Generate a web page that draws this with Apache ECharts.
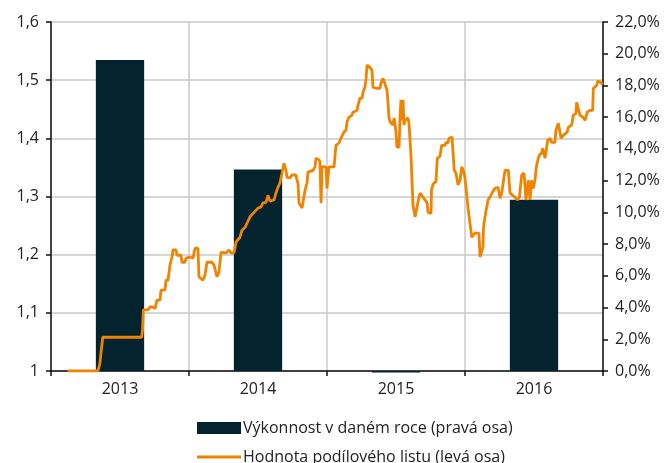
<!DOCTYPE html>
<html>
<head>
<meta charset="utf-8">
<script src="https://cdn.jsdelivr.net/npm/echarts@6/dist/echarts.min.js"></script>
<style>
  html, body { margin: 0; padding: 0; background: #fff; }
  #chart { width: 669px; height: 463px; }
</style>
</head>
<body>
<div id="chart"></div>
<script>
// kategorie (roky) a výkonnost v daném roce, v %
const years = ["2013", "2014", "2015", "2016"];
const yearlyReturn = [19.6, 12.7, -0.1, 10.8];

// hodnota podílového listu: čas (desetinný rok) a hodnota
const navTime = [
  2012.62, 2012.84, 2012.855, 2012.862, 2012.875, 2013.157, 2013.163, 2013.169, 2013.203, 2013.217,
  2013.239, 2013.254, 2013.268, 2013.29, 2013.297, 2013.326, 2013.333, 2013.348, 2013.362, 2013.377,
  2013.384, 2013.406, 2013.413, 2013.442, 2013.449, 2013.471, 2013.478, 2013.507, 2013.529, 2013.543,
  2013.565, 2013.572, 2013.601, 2013.616, 2013.63, 2013.667, 2013.681, 2013.696, 2013.703, 2013.717,
  2013.732, 2013.768, 2013.79, 2013.804, 2013.826, 2013.841, 2013.87, 2013.884, 2013.906, 2013.92,
  2013.942, 2013.964, 2014.0, 2014.022, 2014.036, 2014.058, 2014.072, 2014.087, 2014.116, 2014.13,
  2014.145, 2014.159, 2014.174, 2014.188, 2014.203, 2014.21, 2014.232, 2014.246, 2014.275, 2014.283,
  2014.29, 2014.297, 2014.319, 2014.333, 2014.341, 2014.355, 2014.362, 2014.399, 2014.413, 2014.42,
  2014.442, 2014.449, 2014.457, 2014.464, 2014.493, 2014.5, 2014.514, 2014.551, 2014.565, 2014.587,
  2014.601, 2014.623, 2014.638, 2014.645, 2014.659, 2014.681, 2014.688, 2014.717, 2014.725, 2014.739,
  2014.754, 2014.761, 2014.775, 2014.783, 2014.79, 2014.812, 2014.826, 2014.833, 2014.855, 2014.884,
  2014.891, 2014.906, 2014.92, 2014.935, 2014.942, 2014.949, 2014.957, 2014.964, 2014.978, 2014.986,
  2015.0, 2015.007, 2015.022, 2015.029, 2015.036, 2015.043, 2015.051, 2015.058, 2015.065, 2015.087,
  2015.094, 2015.101, 2015.109, 2015.123, 2015.138, 2015.159, 2015.174, 2015.188, 2015.196, 2015.21,
  2015.225, 2015.232, 2015.254, 2015.257, 2015.268, 2015.29, 2015.299, 2015.319, 2015.331, 2015.355,
  2015.362, 2015.377, 2015.384, 2015.406, 2015.415, 2015.422, 2015.435, 2015.449, 2015.464, 2015.476,
  2015.488, 2015.5, 2015.522, 2015.536, 2015.549, 2015.572, 2015.601, 2015.609, 2015.621, 2015.63,
  2015.634, 2015.645, 2015.667, 2015.681, 2015.696, 2015.717, 2015.739, 2015.754, 2015.766, 2015.778,
  2015.79, 2015.814, 2015.826, 2015.845, 2015.862, 2015.879, 2015.894, 2015.911, 2015.928, 2015.94,
  2015.942, 2015.959, 2015.971, 2015.983, 2015.995, 2016.007, 2016.019, 2016.031, 2016.038, 2016.056,
  2016.063, 2016.072, 2016.08, 2016.092, 2016.099, 2016.116, 2016.128, 2016.152, 2016.159, 2016.176,
  2016.188, 2016.196, 2016.212, 2016.241, 2016.249, 2016.273, 2016.285, 2016.304, 2016.309, 2016.321,
  2016.333, 2016.357, 2016.37, 2016.386, 2016.406, 2016.425, 2016.43, 2016.442, 2016.454, 2016.461,
  2016.478, 2016.498
];
const navValue = [
  1.0, 1.0, 1.014, 1.031, 1.058, 1.058, 1.07, 1.105, 1.105, 1.11,
  1.11, 1.107, 1.122, 1.122, 1.139, 1.139, 1.156, 1.156, 1.182, 1.196,
  1.208, 1.208, 1.199, 1.199, 1.187, 1.187, 1.194, 1.196, 1.194, 1.211,
  1.211, 1.162, 1.156, 1.165, 1.187, 1.187, 1.182, 1.168, 1.162, 1.17,
  1.204, 1.203, 1.208, 1.203, 1.203, 1.222, 1.23, 1.242, 1.247, 1.254,
  1.265, 1.271, 1.28, 1.282, 1.289, 1.29, 1.302, 1.292, 1.294, 1.306,
  1.316, 1.323, 1.34, 1.357, 1.345, 1.333, 1.332, 1.337, 1.337, 1.328,
  1.323, 1.289, 1.28, 1.28, 1.311, 1.323, 1.342, 1.345, 1.351, 1.366,
  1.363, 1.359, 1.289, 1.351, 1.351, 1.314, 1.351, 1.351, 1.388, 1.392,
  1.4, 1.411, 1.414, 1.428, 1.436, 1.44, 1.445, 1.448, 1.457, 1.469,
  1.469, 1.479, 1.488, 1.503, 1.526, 1.522, 1.517, 1.488, 1.486, 1.486,
  1.495, 1.503, 1.5, 1.483, 1.462, 1.436, 1.428, 1.431, 1.423, 1.435,
  1.411, 1.385, 1.385, 1.436, 1.466, 1.431, 1.466, 1.423, 1.431, 1.435,
  1.426, 1.4, 1.368, 1.285, 1.265, 1.29, 1.306, 1.306, 1.299, 1.294,
  1.29, 1.273, 1.271, 1.311, 1.321, 1.326, 1.366, 1.369, 1.388, 1.388,
  1.393, 1.392, 1.4, 1.402, 1.399, 1.345, 1.34, 1.32, 1.328, 1.351,
  1.345, 1.332, 1.28, 1.278, 1.23, 1.237, 1.237, 1.196, 1.194, 1.213,
  1.247, 1.265, 1.294, 1.299, 1.306, 1.314, 1.316, 1.297, 1.306, 1.306,
  1.345, 1.345, 1.306, 1.302, 1.299, 1.294, 1.299, 1.337, 1.34, 1.337,
  1.294, 1.328, 1.294, 1.328, 1.314, 1.328, 1.354, 1.357, 1.371, 1.375,
  1.383, 1.383, 1.366, 1.363, 1.397, 1.4, 1.393, 1.393, 1.414, 1.426,
  1.426, 1.4, 1.405, 1.411, 1.419, 1.423, 1.44, 1.443, 1.462, 1.46,
  1.44, 1.436, 1.431, 1.445, 1.448, 1.448, 1.486, 1.488, 1.491, 1.498,
  1.497, 1.493
];

const barName = "Výkonnost v daném roce (pravá osa)";
const lineName = "Hodnota podílového listu (levá osa)";

let navData = navTime.map(function (t, i) { return [t, navValue[i]]; });

let legendText = { fontSize: 16, color: "#222", padding: [0, 0, 0, -3] };

let myChart = echarts.init(document.getElementById("chart"));
myChart.setOption({
  animation: false,
  textStyle: { fontFamily: "Open Sans, Noto Sans, sans-serif" },
  grid: { left: 51, right: 66, top: 22, bottom: 92 },
  legend: [
    {
      left: 197,
      top: 420,
      padding: 0,
      itemWidth: 44,
      itemHeight: 12,
      textStyle: legendText,
      data: [{ name: barName, icon: "rect" }]
    },
    {
      left: 197,
      top: 449,
      padding: 0,
      itemWidth: 44,
      itemHeight: 3,
      textStyle: legendText,
      data: [{ name: lineName, icon: "rect" }]
    }
  ],
  xAxis: [
    {
      type: "category",
      data: years,
      boundaryGap: true,
      axisLine: { lineStyle: { color: "#111", width: 1.5 } },
      axisTick: { show: true, length: 5, lineStyle: { color: "#111", width: 1.5 } },
      axisLabel: { fontSize: 16, color: "#222", margin: 10 },
      splitLine: { show: true, lineStyle: { color: "#c8c8c8", width: 1.5 } }
    },
    {
      type: "value",
      min: 2012.5,
      max: 2016.5,
      show: false
    }
  ],
  yAxis: [
    {
      type: "value",
      position: "left",
      min: 1,
      max: 1.6,
      interval: 0.1,
      axisLine: { show: true, lineStyle: { color: "#111", width: 1.5 } },
      axisTick: { show: true, length: 5, lineStyle: { color: "#111", width: 1.5 } },
      axisLabel: {
        fontSize: 16,
        color: "#222",
        margin: 12,
        formatter: function (v) {
          return String(Math.round(v * 10) / 10).replace(".", ",");
        }
      },
      splitLine: { show: true, lineStyle: { color: "#c8c8c8", width: 1.5 } }
    },
    {
      type: "value",
      position: "right",
      min: 0,
      max: 22,
      interval: 2,
      axisLine: { show: true, lineStyle: { color: "#111", width: 1.5 } },
      axisTick: { show: true, length: 5, lineStyle: { color: "#111", width: 1.5 } },
      axisLabel: {
        fontSize: 16,
        color: "#222",
        margin: 12,
        formatter: function (v) {
          return v.toFixed(1).replace(".", ",") + "%";
        }
      },
      splitLine: { show: false }
    }
  ],
  series: [
    {
      name: barName,
      type: "bar",
      xAxisIndex: 0,
      yAxisIndex: 1,
      barWidth: "35%",
      clip: false,
      itemStyle: { color: "#03232f" },
      data: yearlyReturn,
      z: 2
    },
    {
      name: lineName,
      type: "line",
      xAxisIndex: 1,
      yAxisIndex: 0,
      symbol: "none",
      lineStyle: { color: "#f08300", width: 2.8 },
      itemStyle: { color: "#f08300" },
      data: navData,
      z: 3
    }
  ]
});
</script>
</body>
</html>
